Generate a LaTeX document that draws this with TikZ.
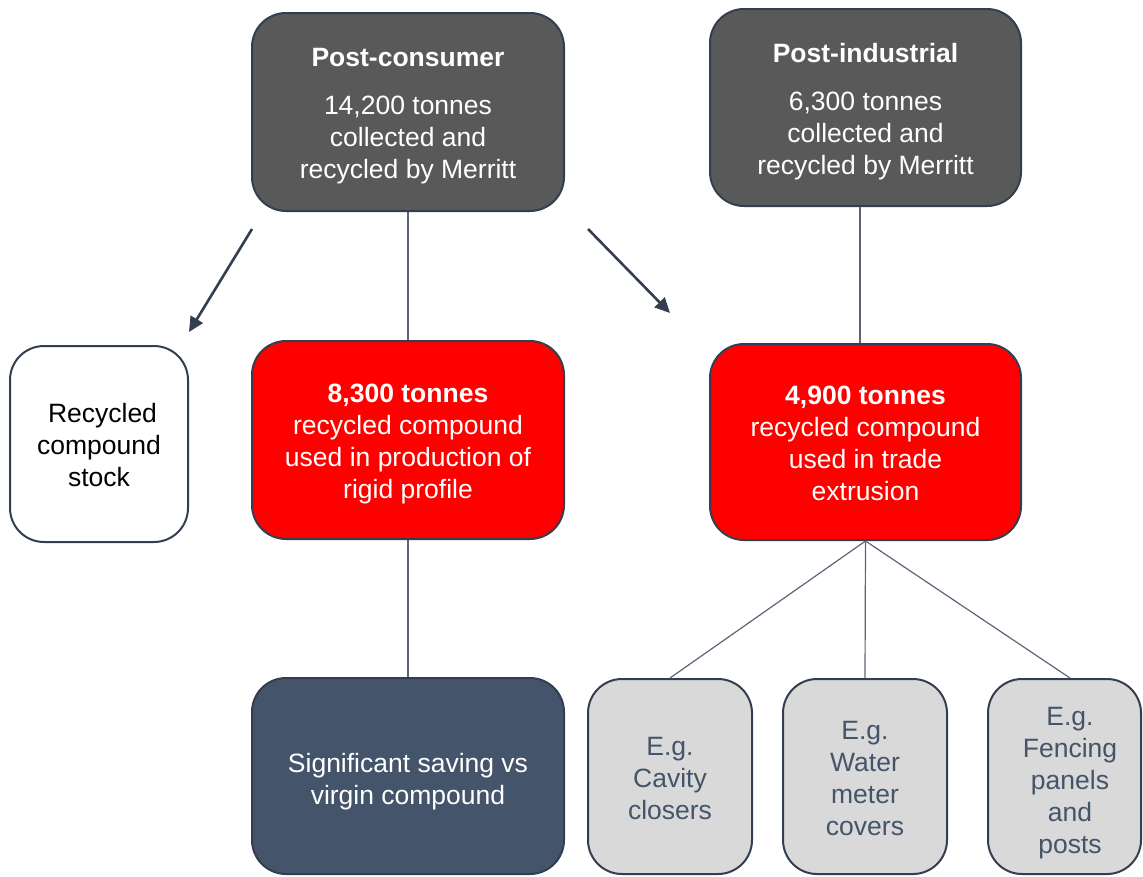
\documentclass[tikz,border=0pt]{standalone}
\usepackage{fontspec}
\setmainfont{Liberation Sans}
\usetikzlibrary{arrows.meta}
\definecolor{boxgray}{HTML}{595959}
\definecolor{edgec}{HTML}{333F50}
\definecolor{navy}{HTML}{44546A}
\definecolor{lightg}{HTML}{D9D9D9}
\definecolor{linkc}{HTML}{5B6577}
\definecolor{redbox}{HTML}{FF0000}
\begin{document}
\begin{tikzpicture}[x=1pt,y=-1pt,
  box/.style={draw=edgec, line width=2pt, rounded corners=34pt, inner sep=0pt},
  plain/.style={align=center, font=\fontsize{26.5}{32}\selectfont, inner sep=0pt},
  link/.style={draw=linkc, line width=1.2pt},
  arr/.style={draw=edgec, line width=2.6pt, -{Triangle[length=15pt,width=14pt]}}]
\useasboundingbox (0,0) rectangle (1143,876);
\clip (0,0) rectangle (1143,876);

% boxes
\node[box, fill=boxgray, minimum width=312, minimum height=198] (pc) at (408,112) {};
\node[box, fill=boxgray, minimum width=311, minimum height=197] (pi) at (865.5,107.5) {};
\node[box, fill=white, minimum width=178, minimum height=196] (stock) at (99,444) {};
\node[box, fill=redbox, minimum width=312, minimum height=198] (p8) at (408,440) {};
\node[box, fill=redbox, minimum width=311, minimum height=196] (p4) at (865.5,442) {};
\node[box, fill=navy, minimum width=312, minimum height=196] (sav) at (408,776) {};
\node[box, fill=lightg, minimum width=164, minimum height=195] (cav) at (670,776.5) {};
\node[box, fill=lightg, minimum width=164, minimum height=195] (wat) at (865,776.5) {};
\node[box, fill=lightg, minimum width=153, minimum height=195] (fen) at (1064.5,776.5) {};

% texts
\node[plain, text=white] (pctxt) at ([yshift=-4.5pt]pc.center)
  {\bfseries Post-consumer\\[16pt]14,200 tonnes\\collected and\\recycled by Merritt};
\node[plain, text=white] (pitxt) at ([yshift=-4pt]pi.center)
  {\bfseries Post-industrial\\[16pt]6,300 tonnes\\collected and\\recycled by Merritt};
\node[plain, text=black] (stocktxt) at ([yshift=-1pt]stock.center)
  {\hspace*{7pt}Recycled\\compound\\stock};
\node[plain, text=white] (p8txt) at ([yshift=-4pt]p8.center)
  {\bfseries 8,300 tonnes\\recycled compound\\used in production of\\rigid profile};
\node[plain, text=white] (p4txt) at ([yshift=-1pt]p4.center)
  {\bfseries 4,900 tonnes\\recycled compound\\used in trade\\extrusion};
\node[plain, text=white] (savtxt) at ([yshift=-6pt]sav.center)
  {Significant saving vs\\virgin compound};
\node[plain, text=navy] (cavtxt) at ([yshift=-2pt]cav.center) {E.g.\\Cavity\\closers};
\node[plain, text=navy] (wattxt) at ([yshift=-2pt]wat.center) {E.g.\\Water\\meter\\covers};
\node[plain, text=navy] (fentxt) at (1070,783) {E.g.\\Fencing\\panels\\and\\posts};

% connectors
\draw[link] (pc.south) -- (p8.north);
\draw[link] ([xshift=-5.5pt]pi.south) -- ([xshift=-5.5pt]p4.north);
\draw[link] (p8.south) -- (sav.north);
\draw[link] (p4.south) -- (cav.north);
\draw[link] (p4.south) -- (wat.north);
\draw[link] (p4.south) -- (fen.north -| fentxt.center);

\coordinate (a1s) at (252,229);
\coordinate (a1e) at (189,332);
\coordinate (a2s) at (588,229);
\coordinate (a2e) at (670,313);
\draw[arr] (a1s) -- (a1e);
\draw[arr] (a2s) -- (a2e);
\end{tikzpicture}
\end{document}
